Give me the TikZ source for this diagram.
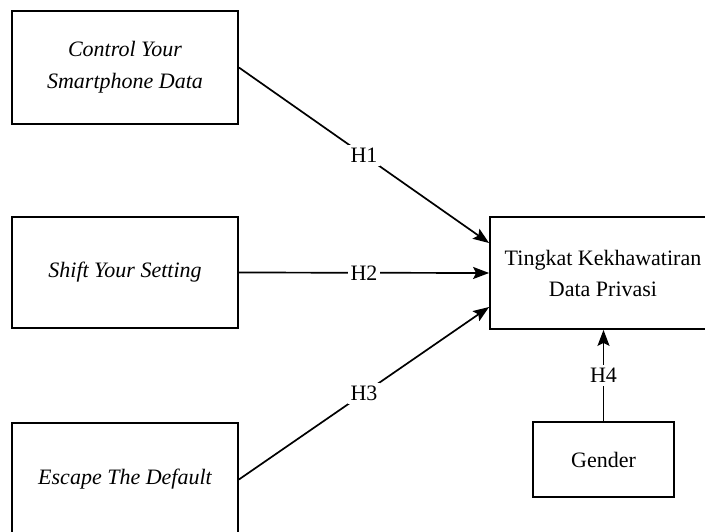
\documentclass[tikz,border=0pt]{standalone}
\usepackage{fontspec}
\setmainfont{Liberation Serif}
\usetikzlibrary{arrows.meta}
\begin{document}
\begin{tikzpicture}[x=1pt,y=-1pt,
  box/.style={draw, line width=1.8pt, minimum width=226pt, minimum height=113pt, align=center, inner sep=0pt,
    font=\fontsize{22}{31}\selectfont},
  itbox/.style={box, font=\fontsize{22}{32}\selectfont\itshape},
  link/.style={line width=1.7pt, -{Stealth[length=16pt,width=12pt,inset=3pt]}},
  hlab/.style={fill=white, inner sep=3pt, font=\fontsize{22}{24}\selectfont}
]
\useasboundingbox (0,0) rectangle (705,531);
\node[itbox] (cy) at (125,67.5) {Control Your\\Smartphone Data};
\node[itbox, minimum height=111pt] (sy) at (125,272.5) {Shift Your Setting};
\node[itbox] (ed) at (125,479.5) {Escape The Default};
\node[box, minimum height=112pt] (tk) at (603,273) {Tingkat Kekhawatiran\\Data Privasi};
\node[box, minimum width=141pt, minimum height=75pt] (gd) at (603.5,459.5) {Gender};
\draw[link] (cy.east) -- node[hlab] {H1} ([yshift=30pt]tk.west);
\draw[link] (sy.east) -- node[hlab] {H2} (tk.west);
\draw[link] (ed.east) -- node[hlab] {H3} ([yshift=-34pt]tk.west);
\draw[link] (gd.north) -- node[hlab] {H4} (gd.north |- tk.south);
\end{tikzpicture}
\end{document}
